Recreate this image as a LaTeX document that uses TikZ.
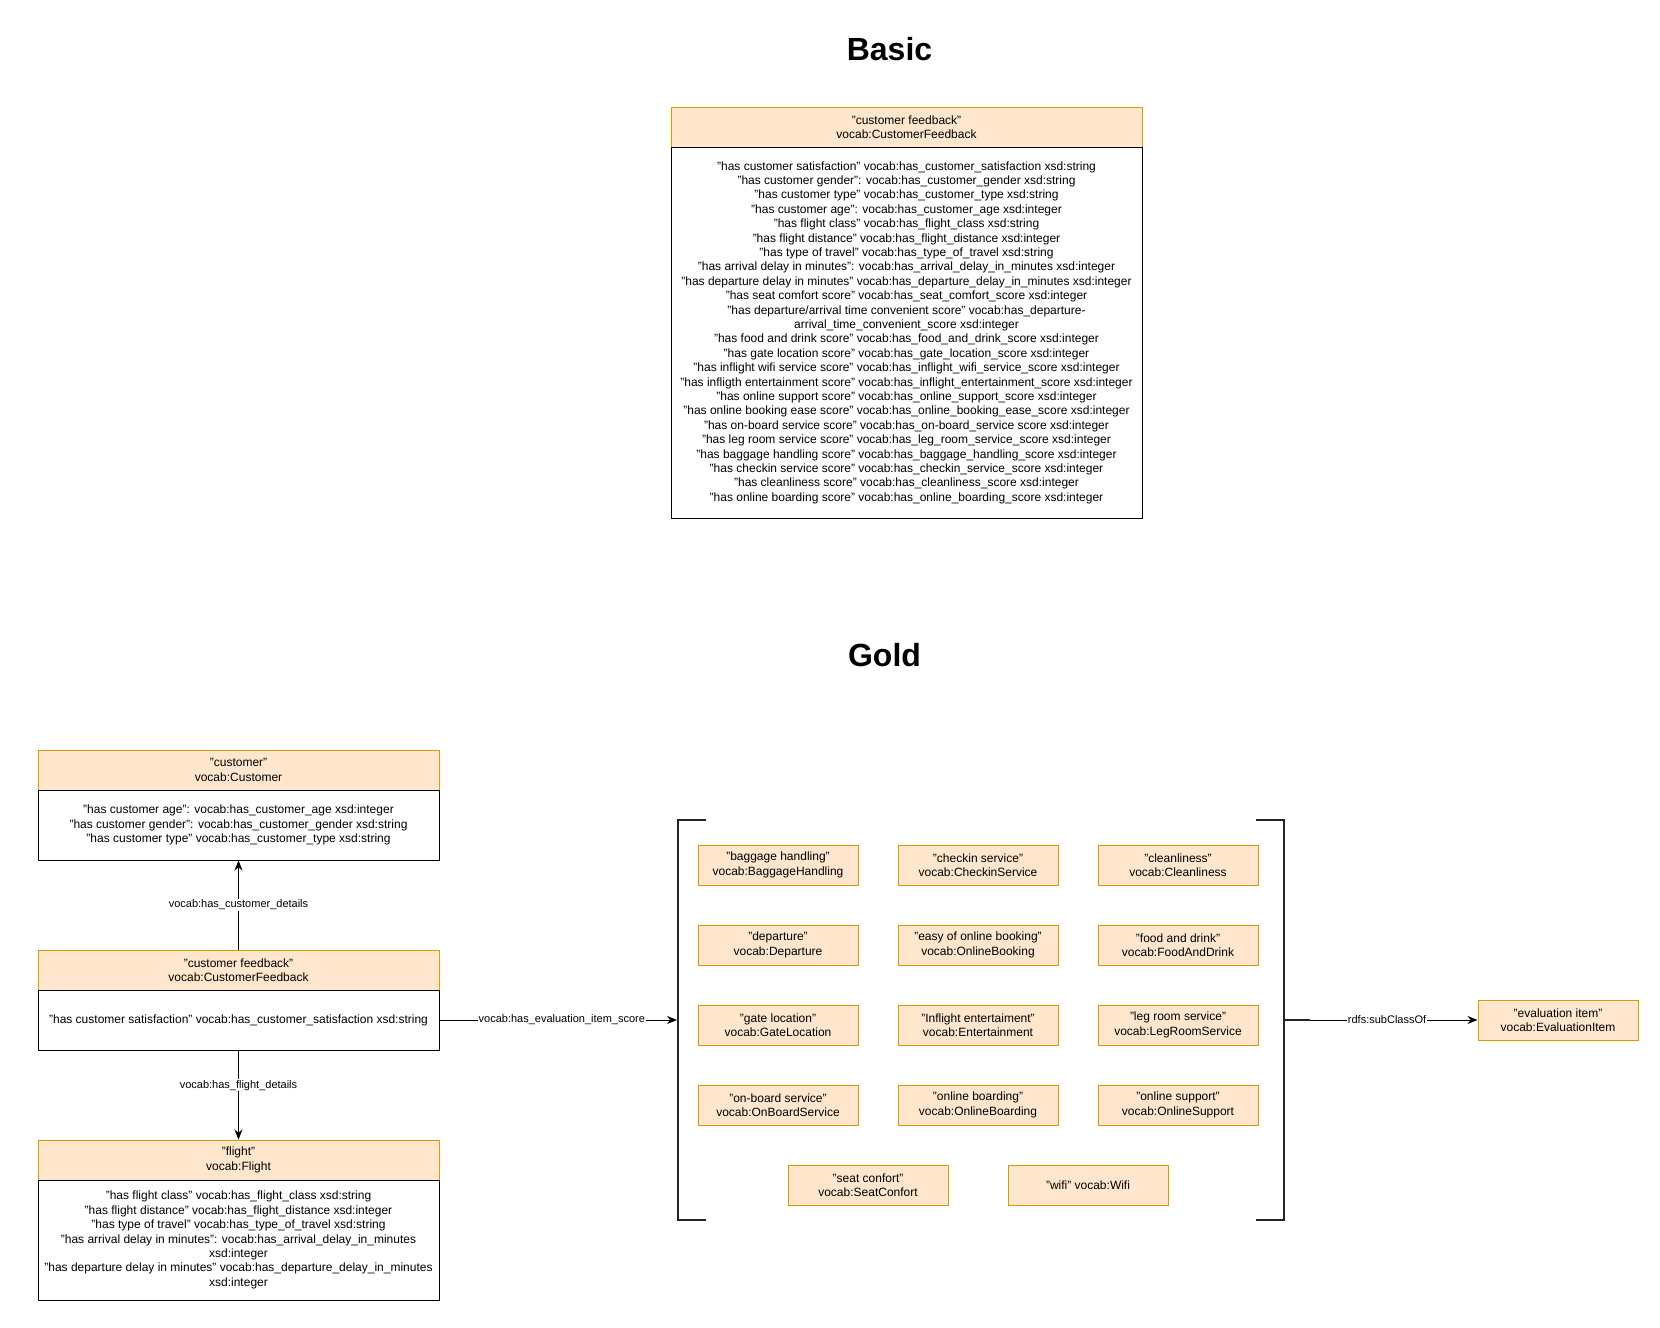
\documentclass[tikz,border=0pt]{standalone}
\usepackage{fontspec}
\setmainfont{Liberation Sans}
\usetikzlibrary{arrows.meta}
\definecolor{hdrfill}{HTML}{FFE6CC}
\definecolor{hdrline}{HTML}{D79B00}
\newcommand{\fsbody}{\fontsize{12}{14.4}\selectfont}
\newcommand{\fslbl}{\fontsize{11}{13.2}\selectfont}
\tikzset{
  hdr/.style={draw=hdrline, fill=hdrfill, inner sep=0pt, align=center, font=\fsbody, minimum height=40pt},
  bodybox/.style={draw=black, fill=white, inner sep=0pt, align=center, font=\fsbody},
  item/.style={draw=hdrline, fill=hdrfill, inner sep=0pt, align=center, font=\fsbody, minimum width=160pt, minimum height=40pt},
  arr/.style={-{Stealth[length=10pt,width=8pt]}, line width=1pt},
  lbl/.style={fill=white, inner sep=1pt, font=\fslbl},
  brk/.style={line width=2pt, draw=black!85},
  ttl/.style={font=\fontsize{32}{38}\selectfont\bfseries, inner sep=0pt, anchor=base}
}
\begin{document}
\begin{tikzpicture}[x=1pt,y=-1pt,line width=1pt]
\useasboundingbox (0,0) rectangle (1660,1328);

% Titles
\node[ttl] (tbasic) at (889.5,60) {Basic};
\node[ttl] (tgold) at (884.5,666) {Gold};

% Basic
\node[hdr, minimum width=471pt] (bhdr) at (906.5,127) {"customer feedback"\\vocab:CustomerFeedback};
\node[bodybox, minimum width=471pt, minimum height=371pt] (bbody) at (906.5,332.5) {%
"has customer satisfaction" vocab:has\_customer\_satisfaction xsd:string\\
"has customer gender": vocab:has\_customer\_gender xsd:string\\
"has customer type" vocab:has\_customer\_type xsd:string\\
"has customer age": vocab:has\_customer\_age xsd:integer\\
"has flight class" vocab:has\_flight\_class xsd:string\\
"has flight distance" vocab:has\_flight\_distance xsd:integer\\
"has type of travel" vocab:has\_type\_of\_travel xsd:string\\
"has arrival delay in minutes": vocab:has\_arrival\_delay\_in\_minutes xsd:integer\\
"has departure delay in minutes" vocab:has\_departure\_delay\_in\_minutes xsd:integer\\
"has seat comfort score" vocab:has\_seat\_comfort\_score xsd:integer\\
"has departure/arrival time convenient score" vocab:has\_departure-\\
arrival\_time\_convenient\_score xsd:integer\\
"has food and drink score" vocab:has\_food\_and\_drink\_score xsd:integer\\
"has gate location score" vocab:has\_gate\_location\_score xsd:integer\\
"has inflight wifi service score" vocab:has\_inflight\_wifi\_service\_score xsd:integer\\
"has infligth entertainment score" vocab:has\_inflight\_entertainment\_score xsd:integer\\
"has online support score" vocab:has\_online\_support\_score xsd:integer\\
"has online booking ease score" vocab:has\_online\_booking\_ease\_score xsd:integer\\
"has on-board service score" vocab:has\_on-board\_service score xsd:integer\\
"has leg room service score" vocab:has\_leg\_room\_service\_score xsd:integer\\
"has baggage handling score" vocab:has\_baggage\_handling\_score xsd:integer\\
"has checkin service score" vocab:has\_checkin\_service\_score xsd:integer\\
"has cleanliness score" vocab:has\_cleanliness\_score xsd:integer\\
"has online boarding score" vocab:has\_online\_boarding\_score xsd:integer};

% Gold: customer
\node[hdr, minimum width=401pt] (chdr) at (238.5,770) {"customer"\\vocab:Customer};
\node[bodybox, minimum width=401pt, minimum height=70pt] (cbody) at (238.5,825) {%
"has customer age": vocab:has\_customer\_age xsd:integer\\
"has customer gender": vocab:has\_customer\_gender xsd:string\\
"has customer type" vocab:has\_customer\_type xsd:string};

% feedback
\node[hdr, minimum width=401pt] (fhdr) at (238.5,970) {"customer feedback"\\vocab:CustomerFeedback};
\node[bodybox, minimum width=401pt, minimum height=60pt] (fbody) at (238.5,1020) {%
"has customer satisfaction" vocab:has\_customer\_satisfaction xsd:string};

% flight
\node[hdr, minimum width=401pt] (flhdr) at (238.5,1160) {"flight"\\vocab:Flight};
\node[bodybox, minimum width=401pt, minimum height=120pt] (flbody) at (238.5,1240) {%
"has flight class" vocab:has\_flight\_class xsd:string\\
"has flight distance" vocab:has\_flight\_distance xsd:integer\\
"has type of travel" vocab:has\_type\_of\_travel xsd:string\\
"has arrival delay in minutes": vocab:has\_arrival\_delay\_in\_minutes\\
xsd:integer\\
"has departure delay in minutes" vocab:has\_departure\_delay\_in\_minutes\\
xsd:integer};

% items
\node[item] (i11) at (778,865) {"baggage handling"\\vocab:BaggageHandling};
\node[item] (i12) at (978,865) {"checkin service"\\vocab:CheckinService};
\node[item] (i13) at (1178,865) {"cleanliness"\\vocab:Cleanliness};
\node[item] (i21) at (778,945) {"departure"\\vocab:Departure};
\node[item] (i22) at (978,945) {"easy of online booking"\\vocab:OnlineBooking};
\node[item] (i23) at (1178,945) {"food and drink"\\vocab:FoodAndDrink};
\node[item] (i31) at (778,1025) {"gate location"\\vocab:GateLocation};
\node[item] (i32) at (978,1025) {"Inflight entertaiment"\\vocab:Entertainment};
\node[item] (i33) at (1178,1025) {"leg room service"\\vocab:LegRoomService};
\node[item] (i41) at (778,1105) {"on-board service"\\vocab:OnBoardService};
\node[item] (i42) at (978,1105) {"online boarding"\\vocab:OnlineBoarding};
\node[item] (i43) at (1178,1105) {"online support"\\vocab:OnlineSupport};
\node[item] (i51) at (868,1185) {"seat confort"\\vocab:SeatConfort};
\node[item] (i52) at (1088,1185) {"wifi" vocab:Wifi};

% brackets
\draw[brk] (706,820) -- (678,820) -- (678,1220) -- (706,1220);
\draw[brk] (1256,820) -- (1284,820) -- (1284,1220) -- (1256,1220);
\draw[brk] (1284,1020) -- (1310,1020);
\coordinate (bl) at (677,1020);
\coordinate (br) at (1310,1020);

% evaluation item
\node[item] (eval) at (1558,1020) {"evaluation item"\\vocab:EvaluationItem};

% connectors
\draw[arr] (fhdr.north) -- (cbody.south) node[lbl, midway] {vocab:has\_customer\_details};
\draw[arr] (fbody.south) -- (flhdr.north) node[lbl, pos=0.39] {vocab:has\_flight\_details};
\draw[arr] (fbody.east) -- (bl) node[lbl, pos=0.515] {vocab:has\_evaluation\_item\_score};
\draw[arr] (br) -- (eval.west) node[lbl, pos=0.46] {rdfs:subClassOf};
\end{tikzpicture}
\end{document}
